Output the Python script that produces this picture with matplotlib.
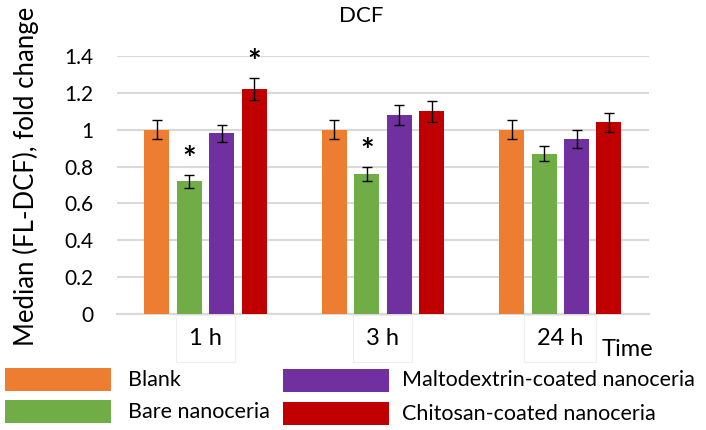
import numpy as np
import matplotlib
matplotlib.use("Agg")
import matplotlib.pyplot as plt
from matplotlib.patches import Rectangle

plt.rcParams["font.family"] = ["Lato", "DejaVu Sans"]

# data
times = ["1 h", "3 h", "24 h"]
series = ["Blank", "Bare nanoceria", "Maltodextrin-coated nanoceria", "Chitosan-coated nanoceria"]
colors = ["#ED7D31", "#70AD47", "#7030A0", "#C00000"]
blank = [1.0, 1.0, 1.0]
bare = [0.72, 0.76, 0.87]
malto = [0.98, 1.08, 0.95]
chito = [1.22, 1.10, 1.04]
blank_err = [0.05, 0.05, 0.05]
bare_err = [0.035, 0.04, 0.042]
malto_err = [0.048, 0.054, 0.049]
chito_err = [0.06, 0.056, 0.053]
# significance marks: (series index, time index)
stars = [(1, 0), (3, 0), (1, 1)]

values = [blank, bare, malto, chito]
errors = [blank_err, bare_err, malto_err, chito_err]

fig = plt.figure(figsize=(7.06, 4.30), dpi=100)
ax = fig.add_axes([0.1657, 0.2698, 0.7535, 0.6])

x = np.arange(len(times))
step = 0.183
width = 0.141
for i, (vals, errs) in enumerate(zip(values, errors)):
    pos = x + (i - 1.5) * step
    ax.bar(pos, vals, width, color=colors[i], zorder=3)
    ax.errorbar(pos, vals, yerr=errs, fmt="none", ecolor="black",
                elinewidth=1, capsize=3.5, capthick=1, zorder=4)

for s, t in stars:
    px = x[t] + (s - 1.5) * step
    py = values[s][t] + errors[s][t]
    ax.text(px, py, "*", ha="center", va="bottom", fontsize=23,
            fontweight="bold", zorder=5)

ax.set_xlim(-0.5, 2.5)
ax.set_ylim(0, 1.4)
ax.set_yticks(np.arange(0, 1.41, 0.2))
ax.set_yticklabels(["0", "0.2", "0.4", "0.6", "0.8", "1", "1.2", "1.4"], fontsize=15)
ax.yaxis.grid(True, color="#d9d9d9", linewidth=1.5, zorder=0)
ax.set_axisbelow(True)
ax.tick_params(axis="y", length=0, pad=17)
ax.set_xticks([])
for sp in ["top", "right", "left"]:
    ax.spines[sp].set_visible(False)
ax.spines["bottom"].set_color("#d9d9d9")
ax.spines["bottom"].set_linewidth(1.5)

# category label boxes
trans = ax.get_xaxis_transform()
for xi, lab in zip(x, times):
    ax.text(xi, -0.095, lab, transform=trans, ha="center", va="center",
            fontsize=17, clip_on=False,
            bbox=dict(boxstyle="square,pad=0.55", facecolor="white",
                      edgecolor="#eeeeee", linewidth=0.8))

fig.text(602 / 706, 1 - 350 / 430, "Time", ha="left", va="center", fontsize=17)
fig.text(361 / 706, 1 - 16 / 430, "DCF", ha="center", va="center", fontsize=16)
fig.text(26 / 706, 1 - 176 / 430, "Median (FL-DCF), fold change", rotation=90,
         ha="center", va="center", fontsize=18.5)

# legend
legend_items = [
    (5, 368, 128, 0), (5, 400, 128, 1),
    (283, 369, 402, 2), (283, 402, 402, 3),
]
for px, py, tx, i in legend_items:
    fig.patches.append(Rectangle((px / 706, 1 - (py + 23) / 430), 106 / 706, 23 / 430,
                                 transform=fig.transFigure, facecolor=colors[i],
                                 edgecolor="none"))
    fig.text(tx / 706, 1 - (py + 11.5) / 430, series[i], ha="left", va="center",
             fontsize=15.5)

fig.savefig("out.png", dpi=100)
